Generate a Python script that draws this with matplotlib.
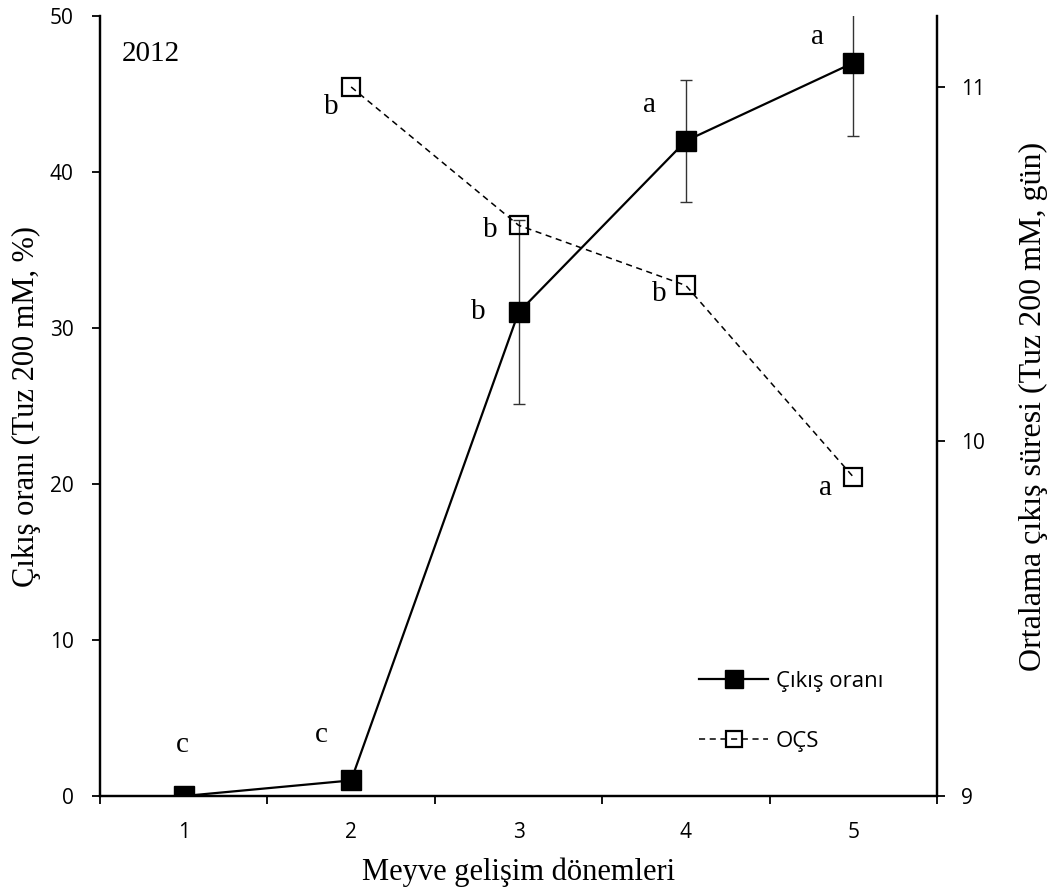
import matplotlib.pyplot as plt
from matplotlib.ticker import FixedLocator, NullFormatter

# meyve gelisim donemleri
donem = [1, 2, 3, 4, 5]

# cikis orani (%) ve standart hata
cikis = [0, 1, 31, 42, 47]
cikis_hata = [0, 0, 5.9, 3.9, 4.7]
cikis_harf = ["c", "c", "b", "a", "a"]

# ortalama cikis suresi (gun), 1. donemde cikis yok
ocs_donem = [2, 3, 4, 5]
ocs = [11.0, 10.61, 10.44, 9.90]
ocs_harf = ["b", "b", "b", "a"]

plt.rcParams["font.family"] = ["Liberation Serif", "DejaVu Serif"]

fig = plt.figure(figsize=(10.61, 8.92), dpi=100)
ax = fig.add_axes([0.0943, 0.1076, 0.7888, 0.8744])
ax2 = ax.twinx()

ax.errorbar(donem, cikis, yerr=cikis_hata, fmt="none", ecolor="#333333",
            elinewidth=1, capsize=4.5, capthick=1, zorder=2)
ax.plot(donem, cikis, color="black", lw=1.6, marker="s", markersize=14,
        markerfacecolor="black", zorder=3, label="Çıkış oranı")

ax2.plot(ocs_donem, ocs, color="black", lw=1.1, ls=(0, (4, 3)), marker="s",
         markersize=13, markerfacecolor="none", markeredgewidth=1.6,
         label="OÇS")

# harfler, noktaya gore kaydirilmis (piksel)
off_cikis = [(-1, 51), (-30, 45), (-40, 0), (-36, 36), (-36, 26)]
for x, y, h, o in zip(donem, cikis, cikis_harf, off_cikis):
    ax.annotate(h, (x, y), xytext=o, textcoords="offset pixels",
                ha="center", va="center", fontsize=21)

off_ocs = [(-20, -20), (-28, -5), (-27, -9), (-28, -11)]
for x, y, h, o in zip(ocs_donem, ocs, ocs_harf, off_ocs):
    ax2.annotate(h, (x, y), xytext=o, textcoords="offset pixels",
                 ha="center", va="center", fontsize=21)

ax.text(0.026, 0.951, "2012", transform=ax.transAxes, fontsize=21,
        ha="left", va="center")

ax.set_xlim(0.5, 5.5)
ax.set_ylim(0, 50)
ax2.set_ylim(9, 11.2)

# kategori sinirlarinda tik, etiketler ortada
ax.xaxis.set_major_locator(FixedLocator([0.5, 1.5, 2.5, 3.5, 4.5, 5.5]))
ax.xaxis.set_major_formatter(NullFormatter())
ax.xaxis.set_minor_locator(FixedLocator(donem))
ax.set_xticklabels([str(d) for d in donem], minor=True)
ax.tick_params(axis="x", which="minor", length=0, pad=19)
ax.tick_params(axis="x", which="major", length=6, width=1.3, direction="out")

ax.set_yticks([0, 10, 20, 30, 40, 50])
ax2.set_yticks([9, 10, 11])
ax.tick_params(axis="y", length=6, width=1.3, direction="out", pad=13)
ax2.tick_params(axis="y", length=6, width=1.3, direction="out", pad=11)

for a in (ax, ax2):
    for lab in a.get_xticklabels(minor=True) + a.get_yticklabels():
        lab.set_family("Open Sans")
        lab.set_fontsize(15)
    for s in a.spines.values():
        s.set_linewidth(1.6)
ax.spines["top"].set_visible(False)
ax2.spines["top"].set_visible(False)

ax.set_xlabel("Meyve gelişim dönemleri", fontsize=22, labelpad=10)
ax.set_ylabel("Çıkış oranı (Tuz 200 mM, %)", fontsize=22, labelpad=6)
ax2.set_ylabel("Ortalama çıkış süresi (Tuz 200 mM, gün)", fontsize=23,
               labelpad=25)

h1, l1 = ax.get_legend_handles_labels()
h2, l2 = ax2.get_legend_handles_labels()
leg = ax2.legend(h1 + h2, l1 + l2, loc="lower left",
                 bbox_to_anchor=(0.692, 0.031), frameon=False,
                 prop={"family": "Open Sans", "size": 16},
                 handlelength=3.1, handletextpad=0.36, labelspacing=1.75,
                 markerscale=0.9)

fig.savefig("out.png", dpi=100)
